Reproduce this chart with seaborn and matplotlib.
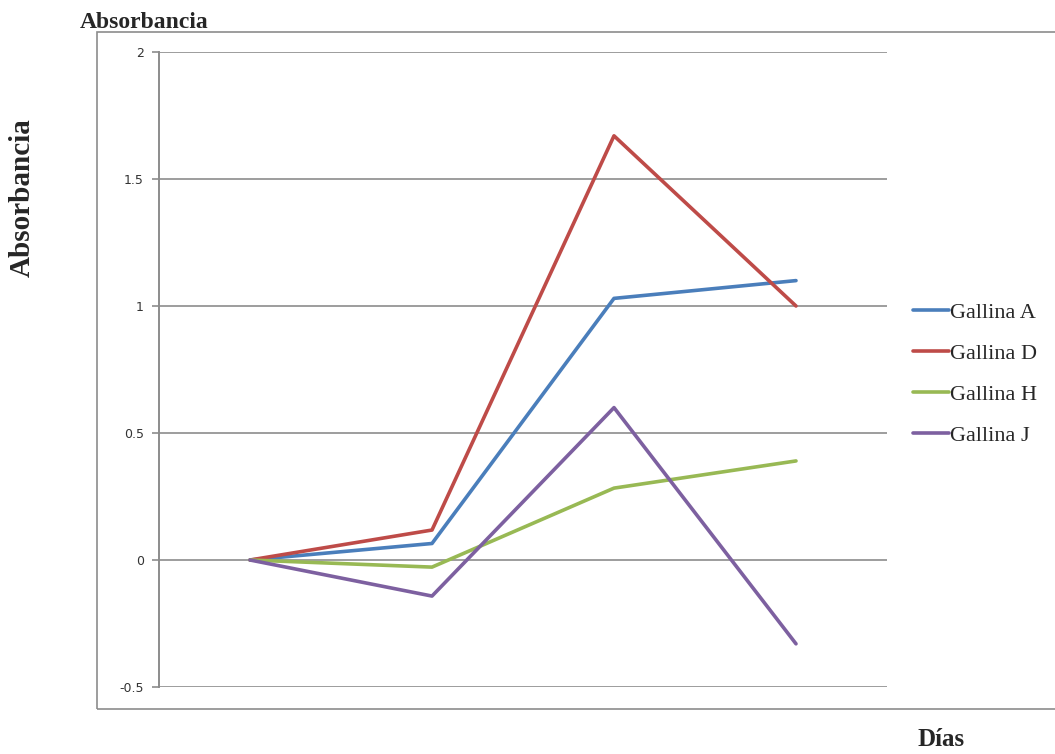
import pandas as pd
import matplotlib.pyplot as plt
import seaborn as sns
from matplotlib.patches import Rectangle

# values
dias = [1, 2, 3, 4]
gallina_a = [0.0, 0.065, 1.03, 1.10]
gallina_d = [0.0, 0.118, 1.67, 1.0]
gallina_h = [0.0, -0.028, 0.283, 0.39]
gallina_j = [0.0, -0.142, 0.60, -0.33]
series_names = ["Gallina A", "Gallina D", "Gallina H", "Gallina J"]
colores = ["#4A7EBB", "#BE4B48", "#98B954", "#7D60A0"]
y_ticks = [-0.5, 0, 0.5, 1, 1.5, 2]
y_tick_labels = ["-0.5", "0", "0.5", "1", "1.5", "2"]

df = pd.DataFrame({"Días": dias * 4,
                   "Absorbancia": gallina_a + gallina_d + gallina_h + gallina_j,
                   "Gallina": [n for n in series_names for _ in dias]})

sns.set_style("white")
plt.rcParams["font.family"] = ["Liberation Serif", "DejaVu Serif"]

fig = plt.figure(figsize=(10.55, 7.54), dpi=100)
ax = fig.add_axes([159 / 1055, 1 - 687 / 754, 728 / 1055, 635 / 754])

# outer chart frame (Excel chart area)
fig.patches.append(Rectangle((97 / 1055, 1 - 709 / 754), 1.0, (709 - 32) / 754,
                             transform=fig.transFigure, fill=False,
                             edgecolor="#8c8c8c", linewidth=1.2, zorder=0))

sns.lineplot(data=df, x="Días", y="Absorbancia", hue="Gallina",
             palette=colores, linewidth=2.6, ax=ax, legend=False)

ax.set_xlim(0.5, 4.5)
ax.set_ylim(-0.5, 2)
ax.set_yticks(y_ticks)
ax.set_yticklabels(y_tick_labels, fontfamily="DejaVu Sans", fontsize=9, color="#333333")
ax.set_xticks([])
ax.yaxis.grid(True, color="#8c8c8c", linewidth=1.2)
ax.set_axisbelow(True)
ax.tick_params(axis="y", length=5, width=1.2, color="#8c8c8c", left=True, pad=6)
for side in ["top", "right"]:
    ax.spines[side].set_visible(False)
ax.spines["left"].set_color("#8c8c8c")
ax.spines["left"].set_linewidth(1.4)
ax.spines["bottom"].set_visible(False)
ax.set_xlabel("")
ax.set_ylabel("")

# legend
handles = [plt.Line2D([], [], color=c, linewidth=2.6) for c in colores]
fig.legend(handles, series_names, loc="upper left",
           bbox_to_anchor=(893 / 1055, 1 - 282 / 754), frameon=False,
           fontsize=16, handlelength=1.6, handletextpad=0.08, labelspacing=0.93)

fig.text(80 / 1055, 1 - 22 / 754, "Absorbancia", fontsize=17, fontweight="bold",
         va="center", ha="left")
fig.text(22 / 1055, 1 - 198 / 754, "Absorbancia", fontsize=21, fontweight="bold",
         rotation=90, va="center", ha="center")
fig.text(941 / 1055, 1 - 740 / 754, "Días", fontsize=18, fontweight="bold",
         va="center", ha="center")

fig.savefig("out.png", dpi=100)
